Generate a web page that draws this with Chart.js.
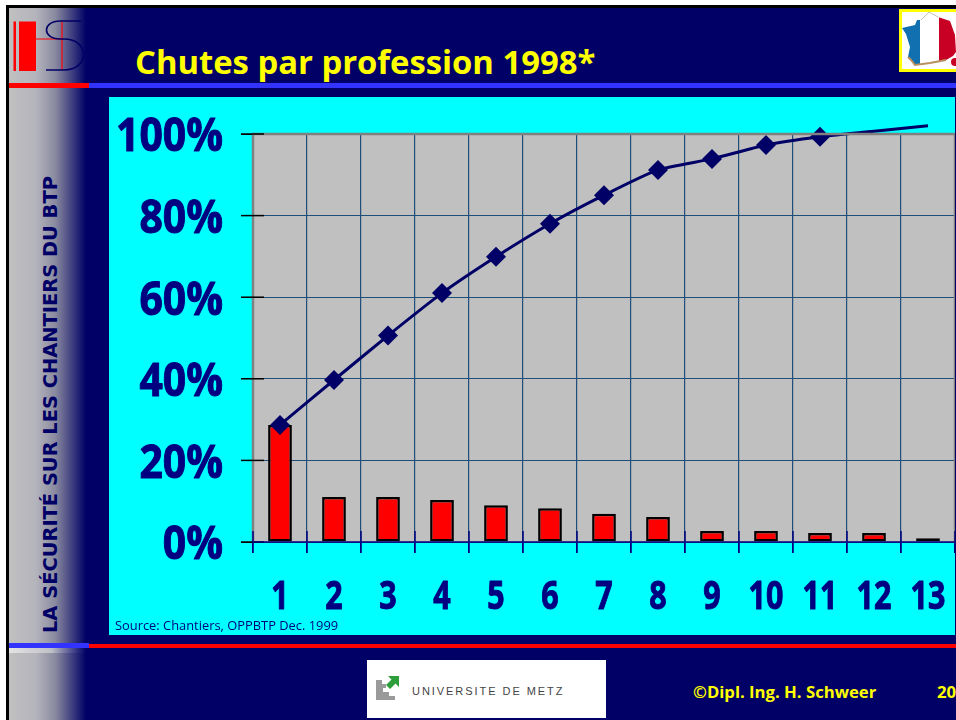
<!DOCTYPE html>
<html lang="fr"><head><meta charset="utf-8">
<script src="https://cdn.jsdelivr.net/npm/chart.js@4/dist/chart.umd.min.js"></script>
<style>
html,body{margin:0;padding:0;background:#fff;overflow:hidden}
#slide{position:relative;width:956px;height:720px;overflow:hidden;background:#fff}
.abs{position:absolute}
.t{position:absolute;white-space:nowrap;transform-origin:0 0}
</style></head><body>
<div id="slide">
<div class="abs" style="left:6px;top:5px;width:950px;height:715px;background:#000"></div>
<div class="abs" style="left:9px;top:8px;width:947px;height:712px;background:#000066"></div>
<div class="abs" style="left:9px;top:8px;width:77px;height:712px;background:linear-gradient(90deg,#c0c0c0 0%,#b4b4bc 35%,#8a8aa0 60%,#000066 100%)"></div>
<div class="abs" style="left:9px;top:83px;width:80px;height:5px;background:#ff0000"></div>
<div class="abs" style="left:89px;top:83px;width:867px;height:5px;background:#3333ff"></div>
<div class="abs" style="left:9px;top:643px;width:80px;height:5px;background:#3333ff"></div>
<div class="abs" style="left:89px;top:644px;width:867px;height:4px;background:#ff0000"></div>
<div class="abs" style="left:9px;top:648px;width:77px;height:5px;background:linear-gradient(90deg,#e4e4e4,#c0c0c8 55%,#000066)"></div>

<svg class="abs" style="left:0;top:0" width="90" height="80">
<rect x="13.5" y="21.5" width="2.5" height="49.5" fill="#ff0000"/>
<rect x="19" y="21.5" width="17" height="49.5" fill="#ff0000"/>
<path d="M36 39H62M62 22V70" stroke="#ff0000" stroke-width="1.2" fill="none"/>
<path d="M81 21H60C42 21 42 39 60 39H64C90 39 90 70 64 70H46" stroke="#000066" stroke-width="1.6" fill="none"/>
</svg>

<svg class="abs" style="left:899px;top:9px" width="57" height="63">
<rect x="1.5" y="1.5" width="60" height="60" fill="#fff" stroke="#ffff00" stroke-width="3"/>
<defs><clipPath id="fr"><polygon points="30,3 39,8 51,12 56,26 57,43 54,47 47,51 31,54 16,56 12,51 9,48 11,38 7,25 3,19 16,16 18,11 22,11"/></clipPath></defs>
<g clip-path="url(#fr)"><rect x="0" y="0" width="21" height="63" fill="#1070b0"/><rect x="21" y="0" width="19" height="63" fill="#fff"/><rect x="40" y="0" width="17" height="63" fill="#c80024"/></g>
<path d="M9 48 12 51 16 56 31 54 47 51" stroke="#b89060" stroke-width="2" fill="none"/>
<path d="M22 11 30 3 39 8" stroke="#c8c0b0" stroke-width="1" fill="none"/>
<circle cx="56" cy="53" r="4" fill="#c80024"/>
</svg>

<div id="title" class="t" style="left:135px;top:39px;font:bold 32.800px 'Open Sans',sans-serif;color:#ffff00">Chutes par profession 1998*</div>
<div id="side" class="t" style="left:39px;top:633px;font:bold 19px 'DejaVu Sans',sans-serif;color:#000066;transform:rotate(-90deg) scaleX(1.022)">LA SÉCURITÉ SUR LES CHANTIERS DU BTP</div>

<div class="abs" style="left:109px;top:97px;width:846px;height:538px;background:#00ffff"></div>
<canvas id="c" class="abs" style="left:109px;top:97px" width="846" height="538"></canvas>
<div class="abs" style="left:955px;top:97px;width:1px;height:538px;background:#000066"></div>
<div class="t" style="left:115px;top:616px;font:13px 'Open Sans',sans-serif;color:#000080;transform:scaleX(.99)">Source: Chantiers, OPPBTP Dec. 1999</div>

<div class="abs" style="left:367px;top:660px;width:239px;height:58px;background:#fff"></div>
<svg class="abs" style="left:375px;top:675px" width="26" height="26">
<path d="M1 5H7V9H11V13H8V17H14V21H20V25H1Z" fill="#9a9a9a"/>
<path d="M13 1H24V12L20.5 8.5 15 14 11 10 16.5 4.500Z" fill="#2e9e3a"/>
</svg>
<div class="t" style="left:412px;top:685px;font:11px 'Liberation Sans',sans-serif;letter-spacing:1.95px;color:#444">UNIVERSITE DE METZ</div>
<div class="t" style="left:693px;top:680px;font:bold 16.700px 'Open Sans',sans-serif;color:#ffff00">©Dipl. Ing. H. Schweer</div>
<div class="t" style="left:937px;top:680px;font:bold 16.700px 'Open Sans',sans-serif;color:#ffff00">20</div>
</div>
<script>
const categories = ['1','2','3','4','5','6','7','8','9','10','11','12','13'];
const shareValues = [28.7,11,11,10.3,9,8.3,6.9,6.1,2.7,2.7,2.2,2.2,0.9];
const cumulativeValues = [28.7,39.7,50.6,61,69.9,78,85,91.2,93.9,97.3,99.3,100.7,102];
const yTickValues = [0,20,40,60,80,100];

// Narrow and embolden the axis text, as the reference's font is condensed and heavy.
function condenseLabels(scale, factor, dy){
  const draw = scale.drawLabels;
  scale.drawLabels = function(area){
    const ctx = this.ctx, ft = ctx.fillText;
    ctx.fillText = function(text,x,y){
      ctx.save(); ctx.scale(factor,1);
      ctx.strokeStyle = ctx.fillStyle; ctx.lineWidth = 1; ctx.lineJoin = 'round';
      ctx.strokeText(text,x/factor,y+dy);
      ft.call(ctx,text,x/factor,y+dy);
      ctx.restore();
    };
    draw.call(this,area);
    delete ctx.fillText;
  };
}
function noPadding(s){ s.paddingLeft=s.paddingRight=s.paddingTop=s.paddingBottom=0; }

const plotDecor = {
  id:'plotDecor',
  beforeDraw(ch){
    const {ctx,chartArea:a}=ch;
    ctx.save();
    ctx.fillStyle='#c0c0c0';
    ctx.fillRect(a.left,a.top,a.width,a.height);
    ctx.restore();
  },
  afterDatasetsDraw(ch){
    const {ctx,chartArea:a,scales}=ch;
    ctx.save();
    ctx.strokeStyle='#808080';ctx.lineWidth=2.5;
    ctx.beginPath();ctx.moveTo(a.left,a.bottom);ctx.lineTo(a.left,a.top);ctx.lineTo(a.right,a.top);ctx.lineTo(a.right,a.bottom);ctx.stroke();
    ctx.lineWidth=1.5;ctx.strokeStyle='#000';
    yTickValues.forEach(v=>{const y=scales.y.getPixelForValue(v);ctx.beginPath();ctx.moveTo(a.left-12,y);ctx.lineTo(a.left+11,y);ctx.stroke();});
    ctx.strokeStyle='#000080';ctx.lineWidth=1.5;
    ctx.beginPath();ctx.moveTo(a.left,a.bottom);ctx.lineTo(a.right,a.bottom);ctx.stroke();
    categories.forEach((c,i)=>{
      const w=scales.x.getPixelForValue(1)-scales.x.getPixelForValue(0);
      const x=scales.x.getPixelForValue(i)-w/2;
      ctx.beginPath();ctx.moveTo(x,a.bottom-11);ctx.lineTo(x,a.bottom+11);ctx.stroke();
      if(i===categories.length-1){ctx.beginPath();ctx.moveTo(x+w,a.bottom-11);ctx.lineTo(x+w,a.bottom+11);ctx.stroke();}
    });
    ctx.restore();
  }
};

const chart = new Chart(document.getElementById('c'),{
  data:{labels:categories,datasets:[
    {type:'line',data:cumulativeValues,order:1,clip:false,borderColor:'#000066',borderWidth:3,tension:0.2,
     pointStyle:'rectRot',pointBackgroundColor:'#000066',pointBorderColor:'#000066',pointBorderWidth:0,
     pointRadius:cumulativeValues.map(v=>v>100?0:10)},
    {type:'bar',data:shareValues,order:2,backgroundColor:'#ff0000',borderColor:'#000',borderWidth:2.5,borderSkipped:false,
     barPercentage:0.44,categoryPercentage:1}
  ]},
  plugins:[plotDecor],
  options:{
    responsive:false,animation:false,
    layout:{autoPadding:false,padding:{top:37,left:0,right:0,bottom:0}},
    plugins:{legend:{display:false},title:{display:false},tooltip:{enabled:false}},
    scales:{
      x:{type:'category',offset:true,
        afterFit(s){s.height=93;noPadding(s);},
        grid:{color:'#1f4e79',lineWidth:1.2,tickLength:11,tickColor:'#000080',offset:true},
        border:{display:false},
        ticks:{color:'#000080',padding:18,maxRotation:0,autoSkip:false,font:{family:"'Open Sans'",weight:'bold',size:39}}},
      y:{min:0,max:100,
        afterFit(s){s.width=144;noPadding(s);},
        afterBuildTicks(s){s.ticks=yTickValues.map(value=>({value}));},
        grid:{color:'#1f4e79',lineWidth:1,tickLength:12,tickColor:'#000'},
        border:{display:false},
        ticks:{color:'#000080',padding:18,font:{family:"'Open Sans'",weight:'bold',size:47},callback:v=>v+'%'}}
    }
  }
});
condenseLabels(chart.scales.x,0.78,3);
condenseLabels(chart.scales.y,0.87,4);
chart.draw();
</script>
</body></html>
